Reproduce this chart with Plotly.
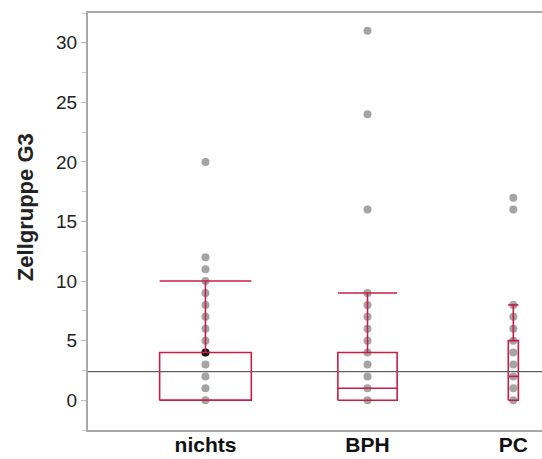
import plotly.graph_objects as go

# ---- data ----
categories = ["nichts", "BPH", "PC"]
nichts_values = [0, 1, 2, 3, 4, 5, 6, 7, 8, 9, 10, 11, 12, 20]
bph_values = [0, 1, 2, 3, 4, 5, 6, 7, 8, 9, 16, 24, 31]
pc_values = [0, 1, 2, 3, 4, 5, 6, 7, 8, 16, 17]
q1 = [0, 0, 0]
median = [0, 1, 2]
q3 = [4, 4, 5]
upper_whisker = [10, 9, 8]
highlighted_value = 4  # black point in "nichts"
overall_mean = 2.4

# ---- layout config ----
cat_pos = [0, 1, 1.9]
box_width = [0.566, 0.366, 0.062]
RED = "#C81E45"
GRAY_DOT = "#A4A4A4"
AXIS_GRAY = "#A8A8A8"
FONT = "Arial, Liberation Sans, sans-serif"

fig = go.Figure()

groups = [nichts_values, bph_values, pc_values]
for i, vals in enumerate(groups):
    fig.add_trace(go.Scatter(
        x=[cat_pos[i]] * len(vals), y=vals, mode="markers",
        marker=dict(color=GRAY_DOT, size=8, line=dict(width=0)),
        showlegend=False, hoverinfo="y"))

# highlighted point
fig.add_trace(go.Scatter(
    x=[cat_pos[0]], y=[highlighted_value], mode="markers",
    marker=dict(color="#111111", size=8), showlegend=False))

# boxes drawn as line paths computed from the stats
for i in range(len(categories)):
    c = cat_pos[i]
    h = box_width[i] / 2
    x0, x1 = c - h, c + h
    xs = [x0, x1, x1, x0, x0, None,
          x0, x1, None,
          c, c, None,
          x0, x1]
    ys = [q1[i], q1[i], q3[i], q3[i], q1[i], None,
          median[i], median[i], None,
          q3[i], upper_whisker[i], None,
          upper_whisker[i], upper_whisker[i]]
    fig.add_trace(go.Scatter(
        x=xs, y=ys, mode="lines",
        line=dict(color=RED, width=1.6),
        showlegend=False, hoverinfo="skip"))

fig.add_hline(y=overall_mean, line=dict(color="#606060", width=1.2), layer="above")

fig.update_layout(
    width=542, height=459,
    margin=dict(l=88, r=0, t=13, b=29),
    paper_bgcolor="white", plot_bgcolor="white",
    font=dict(family=FONT, color="#222222"),
    xaxis=dict(
        range=[-0.725, 2.077],
        tickvals=cat_pos, ticktext=categories,
        tickfont=dict(family=FONT, size=21, color="#111111", weight="bold"),
        showgrid=False, zeroline=False,
        showline=True, linecolor=AXIS_GRAY, linewidth=2, mirror=True,
        ticks="", ticklabelstandoff=-5,
    ),
    yaxis=dict(
        range=[-2.5, 32.5],
        tickvals=[0, 5, 10, 15, 20, 25, 30],
        tickfont=dict(family=FONT, size=19, color="#222222"),
        showgrid=False, zeroline=False,
        showline=True, linecolor=AXIS_GRAY, linewidth=2,
        ticks="outside", ticklen=5, tickcolor="#BBBBBB", tickwidth=1,
        minor=dict(ticks="outside", ticklen=4, tickcolor="#CCCCCC", dtick=2.5, tick0=0),
    ),
    annotations=[dict(
        text="<b>Zellgruppe G3</b>", textangle=-90,
        xref="paper", yref="paper", x=-0.136, y=0.535,
        xanchor="center", yanchor="middle", showarrow=False,
        font=dict(family=FONT, size=22, color="#222222"),
    )],
)

fig.write_html("out.html")
